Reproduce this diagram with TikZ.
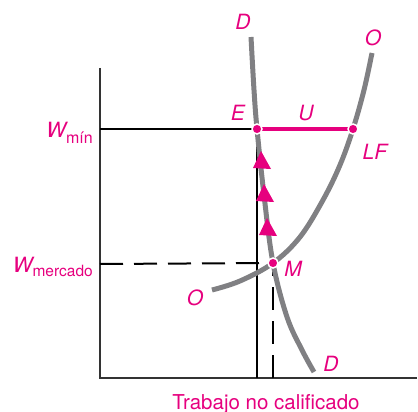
\documentclass[tikz,border=0pt]{standalone}
\usepackage{fontspec}
\setmainfont{TeX Gyre Heros}
\usetikzlibrary{calc}
\definecolor{rosa}{RGB}{230, 0, 126}
\definecolor{curva}{RGB}{128, 128, 131}

\begin{document}
\begin{tikzpicture}[x=1pt, y=-1pt,
    lbl/.style={text=rosa, font=\fontsize{21}{21}\selectfont\itshape, inner sep=0pt},
    punto/.style={circle, fill=rosa, draw=white, line width=1.5pt, inner sep=0pt, minimum size=10pt},
    linea/.style={draw=curva, line width=5pt},
    guion/.style={line width=2pt, dash pattern=on 23pt off 11pt},
    flecha/.pic={\fill[rosa] (-9,8) -- (-1,-9) -- (9,9) -- cycle;}]
        \useasboundingbox (0,0) rectangle (418,412);
        \coordinate (E) at (257,129);
        \coordinate (LF) at (353,129);
        \coordinate (M) at (273,263);
        \coordinate (orig) at (100,378);
        % ejes
        \draw[line width=2pt, black!80] (100,68) -- (orig) -- (417,378);
        \draw[line width=2pt] (100,129) -- (E);
        \draw[line width=2pt] (E) -- (E |- orig);
        \draw[guion] (100,264) -- (M);
        \draw[guion, dash phase=10pt] (M) -- (M |- orig);
        % curvas
        \draw[linea] plot[smooth, tension=0.6] coordinates
          {(251,37) (254,90) (E) (264,195) (M) (287,317) (302,350) (314,372)};
        \draw[linea] plot[smooth, tension=0.6] coordinates
          {(212,290) (240,281) (M) (300,237) (323,200) (340,165) (LF) (364,90) (372,53)};
        \draw[rosa, line width=4.5pt] (E) -- (LF);
        \foreach \p in {(262,160), (265,193), (268,227)}
          \pic at \p {flecha};
        \node[punto] (pE) at (E) {};
        \node[punto] (pLF) at (LF) {};
        \node[punto] (pM) at (M) {};
        % rotulos
        \node[lbl] (D1) at (243,22) {D};
        \node[lbl] (O1) at (373,38) {O};
        \node[lbl] (lE) at (238,113) {E};
        \node[lbl] (lU) at (306,113) {U};
        \node[lbl] (lLF) at (375,152) {LF};
        \node[lbl] (lM) at (293,269) {M};
        \node[lbl] (O2) at (195,298) {O};
        \node[lbl] (D2) at (331,364) {D};
        \node[lbl, anchor=base east] (wmin) at (93,137)
          {W\fontsize{16}{16}\selectfont\upshape\raisebox{-6pt}{mín}};
        \node[lbl, anchor=base east] (wmer) at (93,272)
          {W\fontsize{15.5}{15.5}\selectfont\upshape\raisebox{-4.5pt}{mercado}};
        \node[text=rosa, font=\fontsize{20.5}{20.5}\selectfont, anchor=base] (ejex) at (266,409)
          {Trabajo no calificado};
      \end{tikzpicture}
\end{document}
